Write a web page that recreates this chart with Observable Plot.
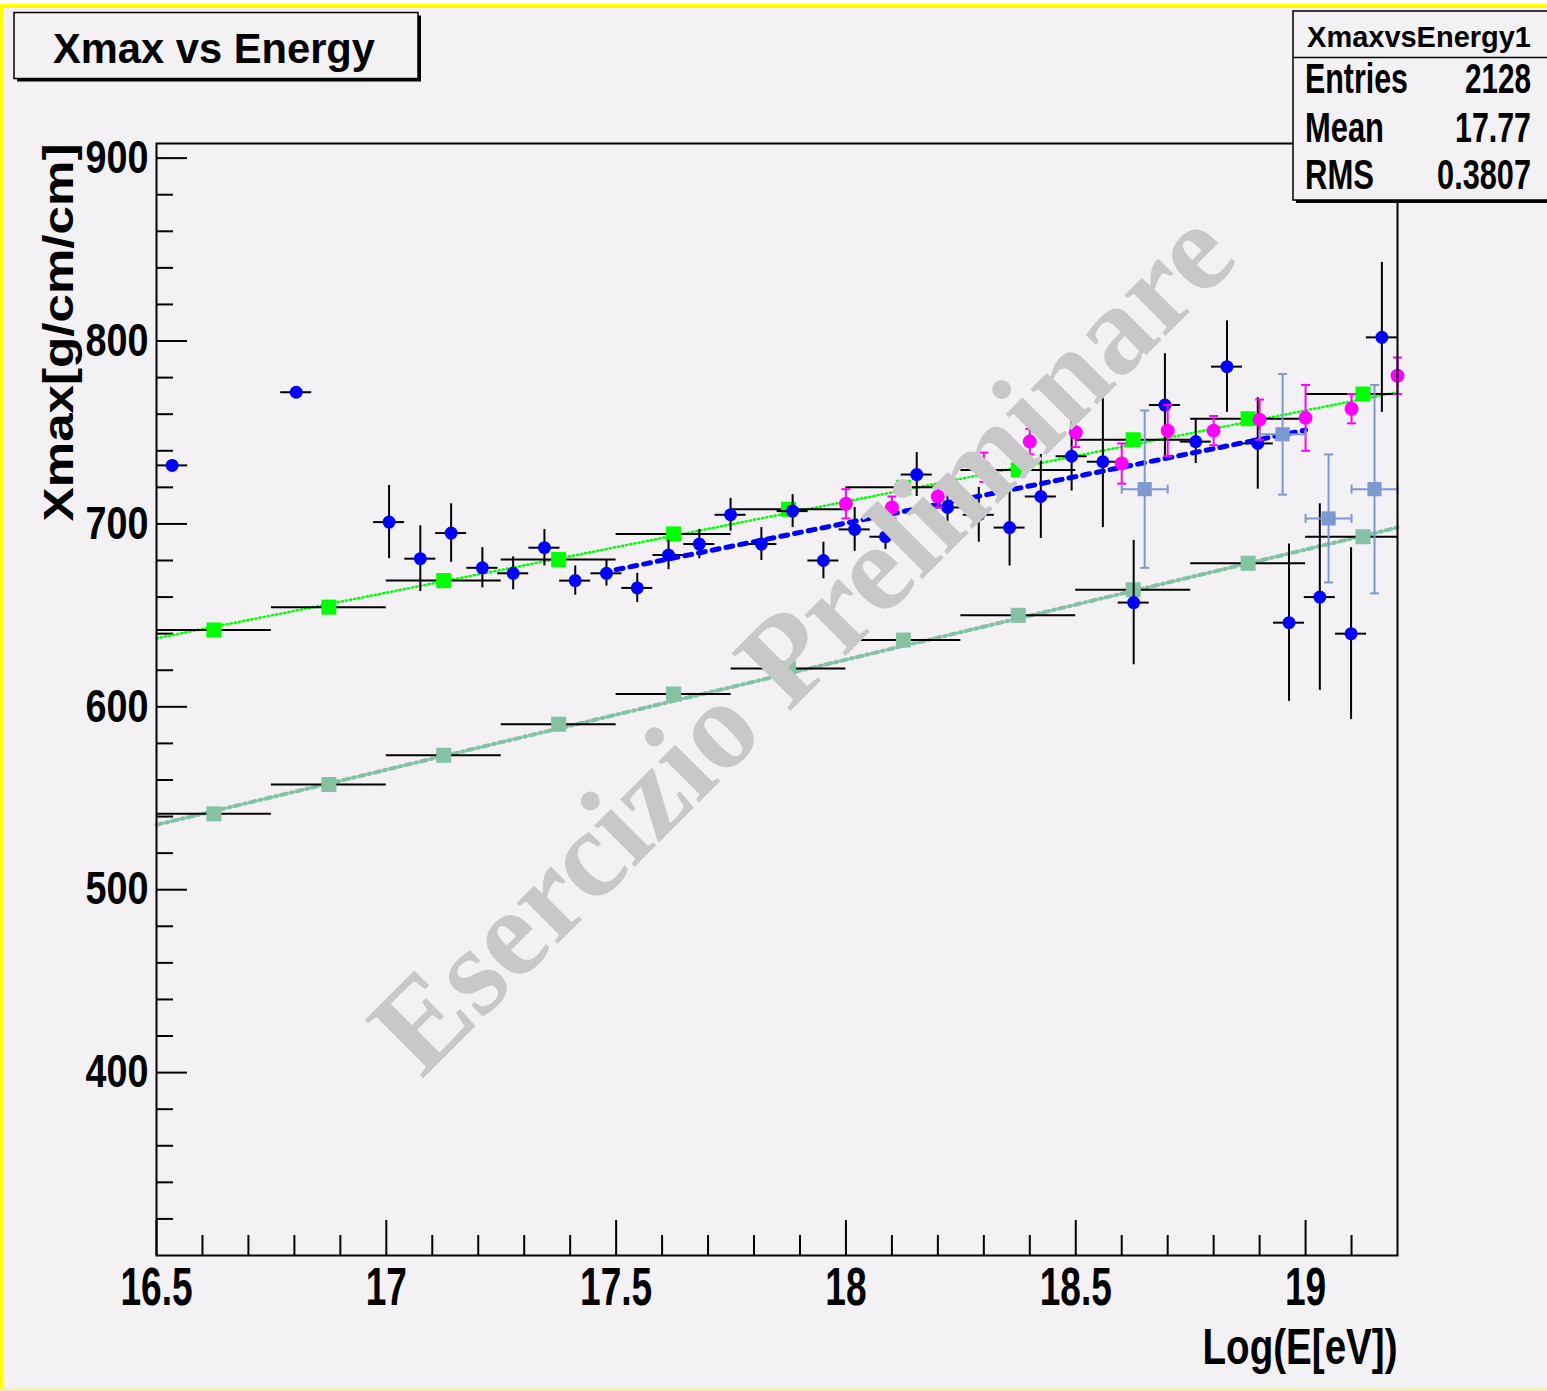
<!DOCTYPE html>
<html>
<head>
<meta charset="utf-8">
<script src="https://cdn.jsdelivr.net/npm/d3@7"></script>
<script src="https://cdn.jsdelivr.net/npm/@observablehq/plot@0.6"></script>
<style>
  html, body { margin: 0; padding: 0; background: #ffffff; }
  #chart { width: 1547px; height: 1391px; }
</style>
</head>
<body>
<div id="chart"></div>
<script>
// ---- Profile of Xmax in bins of log10(E) (blue, 40 bins over 16.5–19.2) ----
const profileX = [16.534, 16.804, 17.006, 17.074, 17.141, 17.209, 17.276, 17.344, 17.411, 17.479,
  17.546, 17.614, 17.681, 17.749, 17.816, 17.884, 17.951, 18.019, 18.086, 18.154, 18.221, 18.289,
  18.356, 18.424, 18.491, 18.559, 18.626, 18.694, 18.761, 18.829, 18.896, 18.964, 19.031, 19.099, 19.166];
const profileY = [732, 772, 701, 681, 695, 676, 673, 687, 669, 673, 665, 683, 689, 705, 689, 707,
  680, 697, 693, 727, 709, 705, 698, 715, 737, 734, 657, 765, 745, 786, 744, 646, 660, 640, 802];
const profileErr = [3, 3, 20, 18, 16, 11, 9, 10, 8, 7, 8, 8, 8, 9, 9, 9, 10, 12, 7, 12, 8, 15,
  21, 23, 19, 36, 34, 28, 12, 25, 25, 43, 51, 47, 41];
const profileHalfBin = 0.03375;

// ---- Proton (green) and iron (sea green) reference values, 0.25-wide bins ----
const refX = [16.625, 16.875, 17.125, 17.375, 17.625, 17.875, 18.125, 18.375, 18.625, 18.875, 19.125];
const protonY = [642, 654.5, 669, 680.5, 694.5, 708, 720, 729.5, 746, 757.5, 771];
const ironY = [541.5, 557.5, 573.5, 590.5, 607, 621, 636.5, 650, 664, 678.5, 693];
const refHalfBin = 0.125;

// ---- Magenta measurements ----
const magentaX = [18.0, 18.1, 18.2, 18.3, 18.4, 18.5, 18.6, 18.7, 18.8, 18.9, 19.0, 19.1, 19.2];
const magentaY = [711, 709, 715, 731, 745, 750, 733, 751, 751, 757, 758, 763, 781];
const magentaErr = [8, 6, 6, 8, 7, 8, 11, 14, 8, 11, 18, 8, 10];

// ---- Light blue measurements ----
const lightX = [18.65, 18.95, 19.05, 19.15];
const lightY = [719, 749, 703, 719];
const lightYErr = [43, 33, 35, 57];
const lightXErr = 0.05;

// ---- Straight-line fits ----
const protonFitX = [16.5, 19.2], protonFitY = [637.5, 772];
const ironFitX = [16.5, 19.2], ironFitY = [535.5, 698];
const profileFitX = [17.5, 19.0], profileFitY = [675, 751.3];

// ---- Axis ticks ----
const xMajorTicks = [16.5, 17, 17.5, 18, 18.5, 19];
const xMinorTicks = [16.6, 16.7, 16.8, 16.9, 17.1, 17.2, 17.3, 17.4, 17.6, 17.7, 17.8, 17.9,
  18.1, 18.2, 18.3, 18.4, 18.6, 18.7, 18.8, 18.9, 19.1];
const yMajorTicks = [400, 500, 600, 700, 800, 900];
const yMinorTicks = [320, 340, 360, 380, 420, 440, 460, 480, 520, 540, 560, 580, 620, 640, 660, 680,
  720, 740, 760, 780, 820, 840, 860, 880];

// ---- Text ----
const chartTitle = "Xmax vs Energy";
const xTitle = "Log(E[eV])";
const yTitle = "Xmax[g/cm/cm]";
const watermark = "Esercizio Preliminare";
const statsName = "XmaxvsEnergy1";
const statLabels = ["Entries", "Mean", "RMS"];
const statValues = ["2128", "17.77", "0.3807"];

// ---- Build tables ----
const profile = profileX.map((x, i) => ({x, y: profileY[i], e: profileErr[i]}));
const proton = refX.map((x, i) => ({x, y: protonY[i]}));
const iron = refX.map((x, i) => ({x, y: ironY[i]}));
const magenta = magentaX.map((x, i) => ({x, y: magentaY[i], e: magentaErr[i]}));
const light = lightX.map((x, i) => ({x, y: lightY[i], e: lightYErr[i]}));
const line = (xs, ys) => xs.map((x, i) => ({x, y: ys[i]}));

const W = 1547, H = 1391;
const mTop = 143, mRight = 150, mBottom = 136, mLeft = 156;
const frameW = W - mLeft - mRight, frameH = H - mTop - mBottom;
const BG = "#f4f1f5";
const FONT = "'Liberation Sans', Arial, Helvetica, sans-serif";

// small error-bar caps drawn as dot symbols
const hCap = {draw(ctx, size) { const w = Math.sqrt(size / Math.PI); ctx.moveTo(-w, 0); ctx.lineTo(w, 0); }};
const vCap = {draw(ctx, size) { const w = Math.sqrt(size / Math.PI); ctx.moveTo(0, -w); ctx.lineTo(0, w); }};

const magentaCaps = magenta.flatMap(d => [{x: d.x, y: d.y - d.e}, {x: d.x, y: d.y + d.e}]);
const lightVCaps = light.flatMap(d => [{x: d.x, y: d.y - d.e}, {x: d.x, y: d.y + d.e}]);
const lightHCaps = light.flatMap(d => [{x: d.x - lightXErr, y: d.y}, {x: d.x + lightXErr, y: d.y}]);

const GREEN = "#00ff00", SEA = "#85c2a3", BLUE = "#0000ff", MAGENTA = "#ff00ff", LIGHT = "#7d99d1";

const chart = Plot.plot({
  width: W, height: H,
  marginTop: mTop, marginRight: mRight, marginBottom: mBottom, marginLeft: mLeft,
  style: {background: BG, fontFamily: FONT, overflow: "visible"},
  x: {domain: [16.5, 19.2], axis: null},
  y: {domain: [300, 908], axis: null},
  marks: [
    // axis ticks (inside the frame)
    Plot.tickX(xMajorTicks, {x: d => d, insetTop: frameH - 35, strokeWidth: 2, stroke: "#000"}),
    Plot.tickX(xMinorTicks, {x: d => d, insetTop: frameH - 20, strokeWidth: 2, stroke: "#000"}),
    Plot.tickY(yMajorTicks, {y: d => d, insetRight: frameW - 31, strokeWidth: 2, stroke: "#000"}),
    Plot.tickY(yMinorTicks, {y: d => d, insetRight: frameW - 17, strokeWidth: 2, stroke: "#000"}),

    // tick labels
    Plot.text(xMajorTicks, {x: d => d, text: d => String(d), frameAnchor: "bottom", lineAnchor: "top",
      dy: 12, fontSize: 53, fontWeight: "bold", fill: "#000"}),
    Plot.text(yMajorTicks, {y: d => d, text: d => String(d), frameAnchor: "left", textAnchor: "end",
      dx: -8, fontSize: 46, fontWeight: "bold", fill: "#000"}),

    // axis titles
    Plot.text([xTitle], {text: d => d, frameAnchor: "bottom-right", textAnchor: "end", lineAnchor: "bottom",
      dy: 108, fontSize: 50, fontWeight: "bold", fill: "#000"}),
    Plot.text([yTitle], {text: d => d, frameAnchor: "top-left", rotate: -90, textAnchor: "end",
      lineAnchor: "bottom", dx: -84, fontSize: 43, fontWeight: "bold", fill: "#000"}),

    // fit lines
    Plot.line(line(protonFitX, protonFitY), {x: "x", y: "y", stroke: GREEN, strokeWidth: 2.5, strokeDasharray: "1.2,3"}),
    Plot.line(line(ironFitX, ironFitY), {x: "x", y: "y", stroke: SEA, strokeWidth: 4, strokeDasharray: "6,4,2,4"}),

    // reference bins
    Plot.ruleY(proton, {y: "y", x1: d => d.x - refHalfBin, x2: d => d.x + refHalfBin, stroke: "#000", strokeWidth: 2, clip: true}),
    Plot.ruleY(iron, {y: "y", x1: d => d.x - refHalfBin, x2: d => d.x + refHalfBin, stroke: "#000", strokeWidth: 2, clip: true}),
    Plot.dot(proton, {x: "x", y: "y", symbol: "square", r: 8.5, fill: GREEN}),
    Plot.dot(iron, {x: "x", y: "y", symbol: "square", r: 8.5, fill: SEA}),

    // profile
    Plot.ruleX(profile, {x: "x", y1: d => d.y - d.e, y2: d => d.y + d.e, stroke: "#000", strokeWidth: 2}),
    Plot.ruleY(profile, {y: "y", x1: d => d.x - profileHalfBin, x2: d => d.x + profileHalfBin, stroke: "#000", strokeWidth: 2}),
    Plot.dot(profile, {x: "x", y: "y", r: 6.5, fill: BLUE}),
    Plot.line(line(profileFitX, profileFitY), {x: "x", y: "y", stroke: BLUE, strokeWidth: 5, strokeDasharray: "7,7"}),

    // magenta measurements
    Plot.ruleX(magenta, {x: "x", y1: d => d.y - d.e, y2: d => d.y + d.e, stroke: MAGENTA, strokeWidth: 2}),
    Plot.dot(magentaCaps, {x: "x", y: "y", symbol: hCap, r: 4.5, fill: "none", stroke: MAGENTA, strokeWidth: 2}),
    Plot.dot(magenta, {x: "x", y: "y", r: 7, fill: MAGENTA}),

    // light blue measurements
    Plot.ruleX(light, {x: "x", y1: d => d.y - d.e, y2: d => d.y + d.e, stroke: LIGHT, strokeWidth: 2}),
    Plot.ruleY(light, {y: "y", x1: d => d.x - lightXErr, x2: d => d.x + lightXErr, stroke: LIGHT, strokeWidth: 2}),
    Plot.dot(lightVCaps, {x: "x", y: "y", symbol: hCap, r: 4.5, fill: "none", stroke: LIGHT, strokeWidth: 2}),
    Plot.dot(lightHCaps, {x: "x", y: "y", symbol: vCap, r: 4.5, fill: "none", stroke: LIGHT, strokeWidth: 2}),
    Plot.dot(light, {x: "x", y: "y", symbol: "square", r: 8, fill: LIGHT}),

    // watermark
    Plot.text([watermark], {text: d => d, frameAnchor: "middle", dx: 54, dy: -29, rotate: -45,
      lineAnchor: "bottom", fontSize: 126, fontWeight: "bold", fontFamily: "'Liberation Serif', 'Times New Roman', serif",
      fill: "#c8c8c8"}),

    Plot.frame({stroke: "#000", strokeWidth: 2})
  ]
});

document.getElementById("chart").appendChild(chart);
const svg = d3.select(chart);

// rewrite a text's placement as translate(...)[rotate] scale(s,1)
function squeeze(el, s) {
  const t = el.getAttribute("transform");
  if (t) el.setAttribute("transform", t + ` scale(${s},1)`);
  else {
    const x = +el.getAttribute("x") || 0, y = +el.getAttribute("y") || 0;
    el.setAttribute("x", 0); el.setAttribute("y", 0);
    el.setAttribute("transform", `translate(${x},${y}) scale(${s},1)`);
  }
}
// scale a text horizontally so it spans the given width
function fitWidth(el, width) {
  const natural = el.getComputedTextLength();
  if (natural > 0) squeeze(el, width / natural);
}
const textsWith = strings => svg.selectAll("text").filter(function () { return strings.includes(this.textContent); });

textsWith(xMajorTicks.map(String)).each(function () { squeeze(this, 0.7); });
textsWith(yMajorTicks.map(String)).each(function () { squeeze(this, 0.82); });
textsWith([xTitle]).each(function () { fitWidth(this, 195); });
textsWith([yTitle]).each(function () { fitWidth(this, 378); });

function addText(g, str, x, y, size, anchor, width) {
  const t = g.append("text").attr("x", 0).attr("y", 0).attr("transform", `translate(${x},${y})`)
    .attr("text-anchor", anchor).attr("font-size", size).text(str);
  fitWidth(t.node(), width);
  return t;
}

// title pave
const pave = svg.append("g").attr("font-family", FONT).attr("font-weight", "bold").attr("fill", "#000");
pave.append("rect").attr("x", 17).attr("y", 15.5).attr("width", 404).attr("height", 66).attr("fill", "#000");
pave.append("rect").attr("x", 14).attr("y", 12.5).attr("width", 404).attr("height", 66)
  .attr("fill", BG).attr("stroke", "#000").attr("stroke-width", 1.5);
addText(pave, chartTitle, 214, 63, 42, "middle", 322);

// statistics box
const stats = svg.append("g").attr("font-family", FONT).attr("font-weight", "bold").attr("fill", "#000");
stats.append("rect").attr("x", 1296).attr("y", 14).attr("width", 260).attr("height", 189).attr("fill", "#000");
stats.append("rect").attr("x", 1293).attr("y", 11).attr("width", 260).attr("height", 189)
  .attr("fill", BG).attr("stroke", "#000").attr("stroke-width", 1.5);
stats.append("line").attr("x1", 1293).attr("x2", W).attr("y1", 57.5).attr("y2", 57.5)
  .attr("stroke", "#000").attr("stroke-width", 1.5);
addText(stats, statsName, 1419, 47, 30, "middle", 224);
const labelWidths = [103, 79, 69], valueWidths = [66, 76, 94], rowBase = [93, 142, 189];
statLabels.forEach((s, i) => {
  addText(stats, s, 1305, rowBase[i], 42, "start", labelWidths[i]);
  addText(stats, statValues[i], 1531, rowBase[i], 42, "end", valueWidths[i]);
});

// canvas border
const border = svg.append("g");
border.append("rect").attr("x", 0).attr("y", 0).attr("width", W).attr("height", 4).attr("fill", "#ffffff");
border.append("rect").attr("x", 0).attr("y", 4).attr("width", W).attr("height", 4).attr("fill", "#ffff00");
border.append("rect").attr("x", 0).attr("y", 4).attr("width", 3).attr("height", H - 4).attr("fill", "#ffff00");
border.append("rect").attr("x", 0).attr("y", H - 2.5).attr("width", W).attr("height", 2.5).attr("fill", "#f0f0a8");
</script>
</body>
</html>
